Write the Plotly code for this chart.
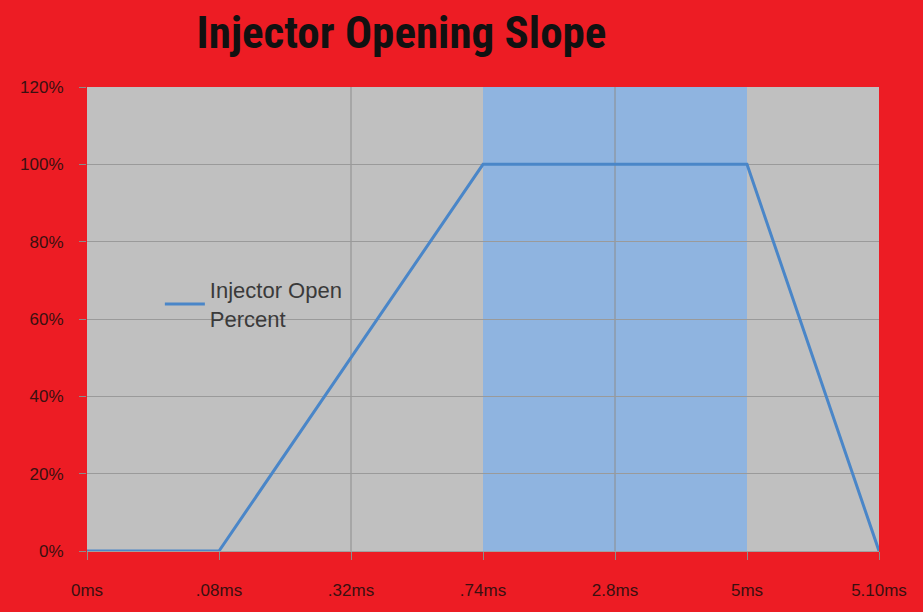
import plotly.graph_objects as go

categories = ["0ms", ".08ms", ".32ms", ".74ms", "2.8ms", "5ms", "5.10ms"]
open_percent = [0.0, 0.0, 0.50, 1.00, 1.00, 1.00, 0.0]
series_name = "Injector Open<br>Percent"
band_start, band_end = ".74ms", "5ms"
grid_cats = [".32ms", "2.8ms"]
y_ticks = [0, 0.2, 0.4, 0.6, 0.8, 1.0, 1.2]

TITLE_FONT = "Liberation Sans Narrow, Roboto Condensed, sans-serif"
FONT = "Liberation Sans, Arial, sans-serif"

fig = go.Figure()
fig.add_trace(go.Scatter(
    x=categories, y=open_percent, mode="lines", name=series_name,
    line=dict(color="#4a86c8", width=3), showlegend=True,
))

shapes = [dict(type="rect", xref="x", yref="paper", x0=band_start, x1=band_end,
               y0=0, y1=1, fillcolor="#8fb4e0", line=dict(width=0), layer="below")]
for c in grid_cats:
    shapes.append(dict(type="line", xref="x", yref="paper", x0=c, x1=c, y0=0, y1=1,
                       line=dict(color="#8c8c8c", width=1), layer="below"))

fig.update_layout(
    width=923, height=612,
    paper_bgcolor="#ed1c24", plot_bgcolor="#c0c0c0",
    margin=dict(l=87, r=44, t=87, b=59),
    title=dict(text="<b>Injector Opening Slope</b>", x=0.435, xanchor="center",
               y=0.948, yanchor="middle",
               font=dict(family=TITLE_FONT, size=45, color="#111111")),
    shapes=shapes,
    showlegend=True,
    legend=dict(x=0.092, y=0.608, xanchor="left", yanchor="top",
                bgcolor="rgba(0,0,0,0)", font=dict(family=FONT, size=22, color="#3a3a3a"),
                itemwidth=40),
    xaxis=dict(type="category", range=[0, 6], showgrid=False, ticks="outside",
               ticklen=8, tickcolor="#8c8c8c", showline=True, linecolor="#a0a0a0",
               tickfont=dict(family=FONT, size=17, color="#3a1010"),
               ticklabelstandoff=16, zeroline=False),
    yaxis=dict(range=[0, 1.2], tickvals=y_ticks, tickformat=".0%", showgrid=True,
               gridcolor="#9a9a9a", gridwidth=1, ticks="outside", ticklen=7,
               tickcolor="#8c8c8c", zeroline=False,
               tickfont=dict(family=FONT, size=17, color="#3a1010"),
               ticklabelstandoff=12),
)

fig.write_html("out.html", config={"displayModeBar": False},
               post_script="document.body.style.margin='0';document.body.style.background='#ed1c24';")
